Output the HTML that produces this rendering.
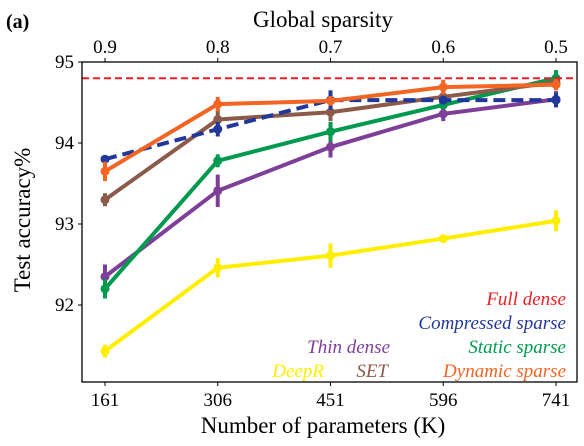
<!DOCTYPE html>
<html><head><meta charset="utf-8"><style>
body{margin:0;background:#fff;}
</style></head><body>
<svg id="chart" width="584" height="441" xmlns="http://www.w3.org/2000/svg" font-family="'Liberation Serif', 'DejaVu Serif', serif">
<rect width="584" height="441" fill="#fff"/>
<g id="marks"></g>
<rect x="82" y="62" width="495" height="320" fill="none" stroke="#000" stroke-width="1.3"/>
<g id="axes"></g>
<text x="6" y="28" font-size="20" font-weight="bold">(a)</text>
<text x="323" y="27" font-size="23" text-anchor="middle">Global sparsity</text>
<text x="323" y="433" font-size="23" text-anchor="middle">Number of parameters (K)</text>
<text transform="translate(30,220) rotate(-90)" font-size="23" text-anchor="middle">Test accuracy%</text>
<g font-size="19" font-style="italic" text-anchor="end">
<text x="566" y="305" fill="#ee1c25">Full dense</text>
<text x="566" y="329" fill="#22379a">Compressed sparse</text>
<text x="390" y="353" fill="#7d3f98">Thin dense</text>
<text x="566" y="353" fill="#009a4e">Static sparse</text>
<text x="324" y="377" fill="#ffee00">DeepR</text>
<text x="388" y="377" fill="#8b5a4b">SET</text>
<text x="566" y="377" fill="#f26522">Dynamic sparse</text>
</g>
</svg>
<script>
const params = [161, 306, 451, 596, 741];
const sparsity = ["0.9", "0.8", "0.7", "0.6", "0.5"];
const yTicks = [92, 93, 94, 95];
const fullDense = 94.8;
const deepR = [91.43, 92.46, 92.61, 92.82, 93.04];
const deepRErr = [0.08, 0.12, 0.15, 0.05, 0.13];
const thinDense = [92.35, 93.41, 93.95, 94.36, 94.54];
const thinDenseErr = [0.15, 0.2, 0.13, 0.09, 0.1];
const staticSparse = [92.2, 93.78, 94.14, 94.47, 94.8];
const staticSparseErr = [0.12, 0.08, 0.12, 0.05, 0.1];
const setVals = [93.3, 94.29, 94.38, 94.57, 94.75];
const setErr = [0.08, 0.12, 0.11, 0.08, 0.06];
const compressed = [93.8, 94.17, 94.53, 94.53, 94.53];
const compressedErr = [0.04, 0.09, 0.12, 0.05, 0.09];
const dynamicSparse = [93.65, 94.48, 94.52, 94.69, 94.72];
const dynamicSparseErr = [0.12, 0.09, 0.06, 0.09, 0.07];

const NS = "http://www.w3.org/2000/svg";
const X0 = 105, DX = 112.75;
function xs(v){ return X0 + (v - params[0]) / (params[1] - params[0]) * DX; }
function ys(v){ return 62 + (95 - v) * 81; }
function mk(tag, attrs, parent){ const e = document.createElementNS(NS, tag); for (const k in attrs) e.setAttribute(k, attrs[k]); parent.appendChild(e); return e; }
const marks = document.getElementById('marks');
const axes = document.getElementById('axes');

const series = [
 ["deepr", deepR, deepRErr, "#ffee00", null],
 ["thin-dense", thinDense, thinDenseErr, "#7d3f98", null],
 ["static-sparse", staticSparse, staticSparseErr, "#009a4e", null],
 ["set", setVals, setErr, "#8b5a4b", null],
 ["compressed-sparse", compressed, compressedErr, "#22379a", "12,6"],
 ["dynamic-sparse", dynamicSparse, dynamicSparseErr, "#f26522", null]
];
series.forEach(s => {
  const [name, vals, errs, col, dash] = s;
  const g = mk('g', {}, marks);
  
  
  const pts = vals.map((v, i) => xs(params[i]) + ',' + ys(v)).join(' ');
  const line = mk('polyline', {points: pts, fill: 'none', stroke: col, 'stroke-width': 4, 'stroke-linejoin': 'round'}, g);
  if (dash) line.setAttribute('stroke-dasharray', dash);
  
  
  vals.forEach((v, i) => {
    const x = xs(params[i]);
    const eb = mk('line', {x1: x, x2: x, y1: ys(v + errs[i]), y2: ys(v - errs[i]), stroke: col, 'stroke-width': 4}, g);
    
    
    const c = mk('circle', {cx: x, cy: ys(v), r: 4.5, fill: col}, g);
    
    
  });
});
const fd = mk('line', {x1: 82, x2: 577, y1: ys(fullDense), y2: ys(fullDense), stroke: '#ee1c25', 'stroke-width': 2, 'stroke-dasharray': '7,4'}, marks);



params.forEach((p, i) => {
  const x = xs(p);
  mk('line', {x1: x, x2: x, y1: 382, y2: 386, stroke: '#000'}, axes);
  const t = mk('text', {x: x, y: 406, 'font-size': 19, 'text-anchor': 'middle'}, axes);
  t.textContent = p;
  
  
  mk('line', {x1: x, x2: x, y1: 58, y2: 62, stroke: '#000'}, axes);
  const t2 = mk('text', {x: x, y: 53, 'font-size': 19, 'text-anchor': 'middle'}, axes);
  t2.textContent = sparsity[i];
  
  
});
yTicks.forEach(v => {
  const y = ys(v);
  mk('line', {x1: 78, x2: 82, y1: y, y2: y, stroke: '#000'}, axes);
  const t = mk('text', {x: 74, y: y + 6, 'font-size': 19, 'text-anchor': 'end'}, axes);
  t.textContent = v;
  
  
});
</script>
</body></html>
